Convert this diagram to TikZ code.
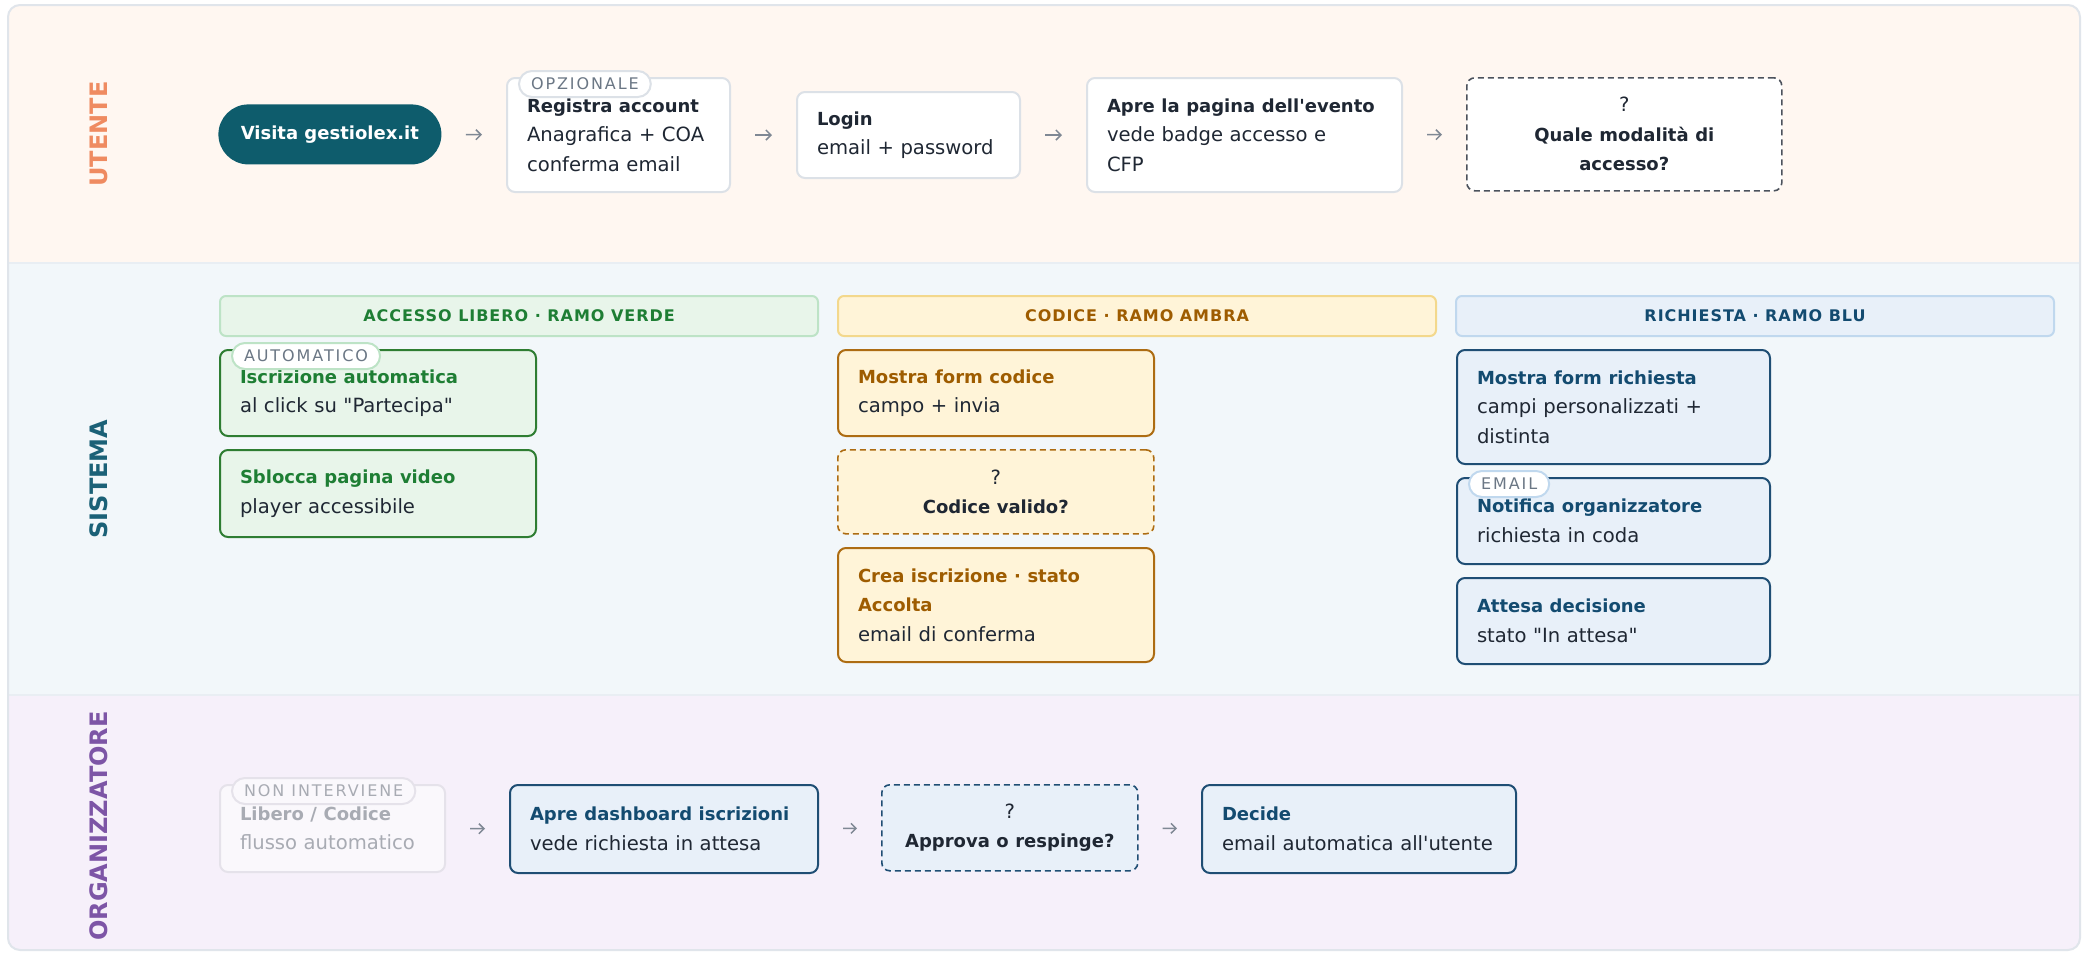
\documentclass[tikz,border=0pt]{standalone}
\usepackage{fontspec}
\setmainfont{DejaVu Sans}
\newfontfamily\badgefont[LetterSpace=12]{DejaVu Sans}
\newfontfamily\headfont[LetterSpace=6]{DejaVu Sans}
\usepackage{xcolor}
\usepackage{tikz}
\usetikzlibrary{arrows.meta}

\definecolor{ink}{HTML}{1F2733}
\definecolor{edge}{HTML}{DCE1E7}
\definecolor{frame}{HTML}{E0E5EB}
\definecolor{laneu}{HTML}{FFF7F1}
\definecolor{lanes}{HTML}{F2F7FA}
\definecolor{laneo}{HTML}{F6F0FA}
\definecolor{lanesep}{HTML}{E9EEF3}
\definecolor{lblu}{HTML}{EF8B61}
\definecolor{lbls}{HTML}{1B6177}
\definecolor{lblo}{HTML}{7D55A6}
\definecolor{pill}{HTML}{0E5C6C}
\definecolor{arrowgrey}{HTML}{7F8894}
\definecolor{gfill}{HTML}{E8F5EA}
\definecolor{gline}{HTML}{2E7D32}
\definecolor{gtext}{HTML}{1E7E34}
\definecolor{ghead}{HTML}{BDE3C6}
\definecolor{afill}{HTML}{FFF4D8}
\definecolor{aline}{HTML}{AD6C12}
\definecolor{atext}{HTML}{9E5C00}
\definecolor{ahead}{HTML}{F3D88C}
\definecolor{bfill}{HTML}{E8F0F9}
\definecolor{bline}{HTML}{1F4E74}
\definecolor{btext}{HTML}{134B70}
\definecolor{bhead}{HTML}{C0D8EE}
\definecolor{badgeink}{HTML}{6B7785}
\definecolor{fadefill}{HTML}{FAF8FC}
\definecolor{fadeline}{HTML}{E5E2EA}
\definecolor{fadetext}{HTML}{A8ABB3}

\newcommand\ttl[2][ink]{\textcolor{#1}{\fontsize{9}{14.75}\selectfont\bfseries #2}}

\tikzset{
  card/.style={rectangle, rounded corners=4pt, line width=1pt, anchor=north west, align=left,
    inner xsep=10pt, inner ysep=0pt, text=ink, font=\fontsize{9.8}{14.75}\selectfont},
  plainbox/.style={card, draw=edge, fill=white},
  verde/.style={card, draw=gline, fill=gfill},
  ambra/.style={card, draw=aline, fill=afill},
  blu/.style={card, draw=bline, fill=bfill},
  quiz/.style={align=center, dash pattern=on 3pt off 2pt, line width=0.8pt},
  fade/.style={card, draw=fadeline, fill=fadefill, text=fadetext},
  badge/.style={rectangle, rounded corners=6.5pt, fill=white, line width=1pt, anchor=west,
    minimum height=13pt, inner xsep=6pt, inner ysep=0pt, text=badgeink, font=\badgefont\fontsize{8}{9}\selectfont},
  head/.style={rectangle, rounded corners=3pt, line width=1pt, anchor=north west,
    minimum width=299pt, minimum height=20pt, font=\headfont\fontsize{8}{9}\selectfont\bfseries},
  lanelbl/.style={rotate=90, font=\fontsize{12}{14}\selectfont\bfseries},
  arr/.style={-{Straight Barb[length=2.5pt,width=5pt]}, draw=arrowgrey, line width=0.75pt,
    shorten <=12pt, shorten >=12pt}
}

\begin{document}
\begin{tikzpicture}[x=0.5pt, y=-0.5pt]
\useasboundingbox (0,0) rectangle (2085,955);
\fill[white] (0,0) rectangle (2085,955);
\begin{scope}
\clip[rounded corners=6pt] (8,5) rectangle (2080,950);
\fill[laneu] (8,5) rectangle (2080,263);
\fill[lanes] (8,263) rectangle (2080,695);
\fill[laneo] (8,695) rectangle (2080,950);
\draw[lanesep, line width=1pt] (8,263) -- (2080,263); \draw[lanesep, line width=1pt] (8,695) -- (2080,695);
\end{scope}
\draw[frame, line width=1pt, rounded corners=6pt] (8,5) rectangle (2080,950);

\node[lanelbl, text=lblu] (utente) at (99,134) {UTENTE};
\node[lanelbl, text=lbls] (sistema) at (99,479) {SISTEMA};
\node[lanelbl, text=lblo] (organizzatore) at (99,826) {ORGANIZZATORE};

% utente
\node[rectangle, rounded corners=15pt, fill=pill, text=white, minimum width=111.5pt, minimum height=30pt, anchor=north west,
  font=\fontsize{9}{10}\selectfont\bfseries] (visita) at (218,104) {Visita gestiolex.it};
\node[plainbox, text width=91.5pt, minimum height=57pt] (registra) at (506,77) {\ttl{Registra account}\\Anagrafica + COA\\conferma email};
\node[badge, draw=edge] (opzionale) at ([xshift=6pt, yshift=-3.5pt]registra.north west) {OPZIONALE};
\node[plainbox, text width=91.5pt, minimum height=43pt] (login) at (796,91) {\ttl{Login}\\email + password};
\node[plainbox, text width=137.5pt, minimum height=57pt] (pagina) at (1086,77) {\ttl{Apre la pagina dell\textquotesingle evento}\\vede badge accesso e\\CFP};
\node[plainbox, quiz, draw=ink!80, text width=137.5pt, minimum height=56.5pt] (modalita) at (1466,77) {?\\\ttl{Quale modalità di}\\\ttl{accesso?}};
\draw[arr] (visita) -- (registra); \draw[arr] (registra) -- (login);
\draw[arr] (login) -- (pagina); \draw[arr] (pagina) -- (modalita);

% sistema
\node[head, fill=gfill, draw=ghead, text=gtext] (hverde) at (219,295) {ACCESSO LIBERO · RAMO VERDE};
\node[head, fill=afill, draw=ahead, text=atext] (hambra) at (837,295) {CODICE · RAMO AMBRA};
\node[head, fill=bfill, draw=bhead, text=btext] (hblu) at (1455,295) {RICHIESTA · RAMO BLU};

\node[verde, text width=138pt, minimum height=43pt] (iscrizione) at (219,349) {\ttl[gtext]{Iscrizione automatica}\\al click su \textquotedbl Partecipa\textquotedbl};
\node[badge, draw=ghead] (automatico) at ([xshift=6pt, yshift=-3.5pt]iscrizione.north west) {AUTOMATICO};
\node[verde, text width=138pt, minimum height=43.5pt] (sblocca) at (219,449) {\ttl[gtext]{Sblocca pagina video}\\player accessibile};

\node[ambra, text width=138pt, minimum height=43pt] (formcodice) at (837,349) {\ttl[atext]{Mostra form codice}\\campo + invia};
\node[ambra, quiz, text width=138pt, minimum height=42pt] (valido) at (837,449) {?\\\ttl{Codice valido?}};
\node[ambra, text width=138pt, minimum height=57pt] (accolta) at (837,547) {\ttl[atext]{Crea iscrizione · stato}\\\ttl[atext]{Accolta}\\email di conferma};

\node[blu, text width=136.5pt, minimum height=57pt] (formrichiesta) at (1456,349) {\ttl[btext]{Mostra form richiesta}\\campi personalizzati +\\distinta};
\node[blu, text width=136.5pt, minimum height=43pt] (notifica) at (1456,477) {\ttl[btext]{Notifica organizzatore}\\richiesta in coda};
\node[badge, draw=bhead] (email) at ([xshift=6pt, yshift=-3.5pt]notifica.north west) {EMAIL};
\node[blu, text width=136.5pt, minimum height=43pt] (attesa) at (1456,577) {\ttl[btext]{Attesa decisione}\\stato \textquotedbl In attesa\textquotedbl};

% organizzatore
\node[fade, text width=92.5pt, minimum height=43.5pt] (libero) at (219,784) {\ttl[fadetext]{Libero / Codice}\\flusso automatico};
\node[badge, draw=fadeline, fill=fadefill, text=fadetext] (noninterviene) at ([xshift=6pt, yshift=-3.5pt]libero.north west) {NON INTERVIENE};
\node[blu, text width=134pt, minimum height=44pt] (dashboard) at (509,784) {\ttl[btext]{Apre dashboard iscrizioni}\\vede richiesta in attesa};
\node[blu, quiz, text width=108pt, minimum height=43pt] (approva) at (881,784) {?\\\ttl{Approva o respinge?}};
\node[blu, text width=137pt, minimum height=44pt] (decide) at (1201,784) {\ttl[btext]{Decide}\\email automatica all\textquotesingle utente};
\draw[arr] (libero) -- (dashboard); \draw[arr] (dashboard) -- (approva); \draw[arr] (approva) -- (decide);
\end{tikzpicture}
\end{document}
